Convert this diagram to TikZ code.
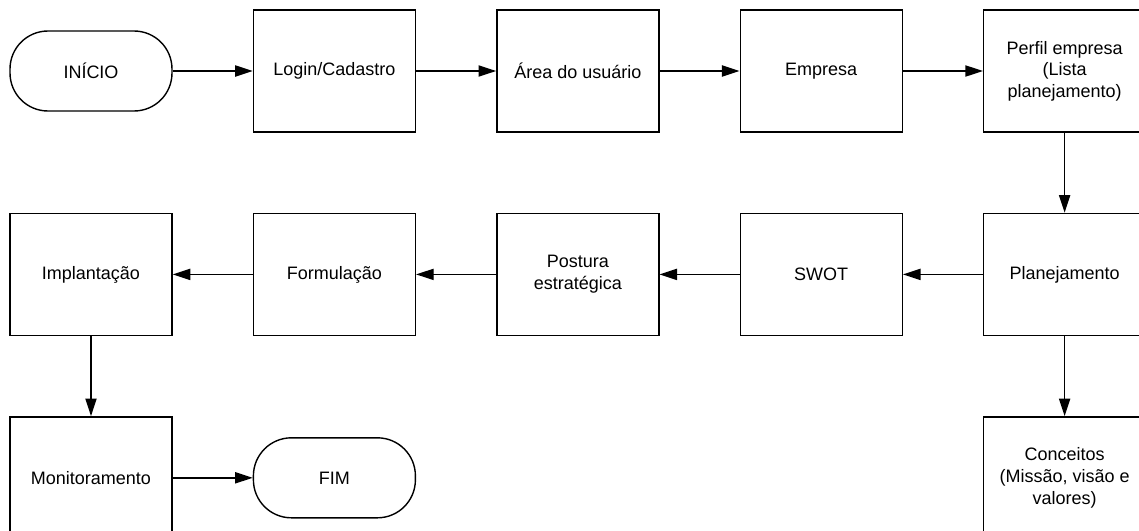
\documentclass[tikz,border=0pt]{standalone}
\usepackage{fontspec}
\setmainfont{Liberation Sans}
\usepackage{tikz}
\usetikzlibrary{arrows.meta, positioning}

\begin{document}
\begin{tikzpicture}[
  block/.style = {draw, line width=1pt, minimum height=3.05cm, minimum width=4.05cm, align=center, inner sep=2pt},
  terminal/.style = {draw, line width=1pt, rounded corners=0.95cm, minimum height=2cm, minimum width=4.05cm, align=center},
  arrow/.style = {line width=1pt, -{Triangle[length=4.4mm, width=2.8mm]}},
  node distance=2cm and 2cm,
  font=\fontsize{12.8pt}{15.4pt}\selectfont
]
  \useasboundingbox (0,0) rectangle (28.475,-13.275);

  % ======================================================
  % First row
  % ======================================================
  \node[terminal] (inicio) at (2.275,-1.775) {INÍCIO};
  \node[block, right=of inicio] (login) {Login/Cadastro};
  \node[block, right=of login] (area) {Área do usuário};
  \node[block, right=of area] (empresa) {Empresa};
  \node[block, right=of empresa] (perfil) {Perfil empresa\\(Lista\\planejamento)};

  % ======================================================
  % Second row (right to left)
  % ======================================================
  \node[block, below=of perfil] (planejamento) {Planejamento};
  \node[block, left=of planejamento] (swot) {SWOT};
  \node[block, left=of swot] (postura) {Postura\\estratégica};
  \node[block, left=of postura] (formulacao) {Formulação};
  \node[block, left=of formulacao] (implantacao) {Implantação};

  % ======================================================
  % Third row
  % ======================================================
  \node[block, below=of implantacao] (monitoramento) {Monitoramento};
  \node[terminal, right=of monitoramento] (fim) {FIM};
  \node[block, below=of planejamento] (conceitos) {Conceitos\\(Missão, visão e\\valores)};

  % connectors
  \draw[arrow] (inicio) -- (login);
  \draw[arrow] (login) -- (area);
  \draw[arrow] (area) -- (empresa);
  \draw[arrow] (empresa) -- (perfil);
  \draw[arrow] (perfil) -- (planejamento);
  \draw[arrow] (planejamento) -- (swot);
  \draw[arrow] (swot) -- (postura);
  \draw[arrow] (postura) -- (formulacao);
  \draw[arrow] (formulacao) -- (implantacao);
  \draw[arrow] (planejamento) -- (conceitos);
  \draw[arrow] (implantacao) -- (monitoramento);
  \draw[arrow] (monitoramento) -- (fim);

\end{tikzpicture}
\end{document}
